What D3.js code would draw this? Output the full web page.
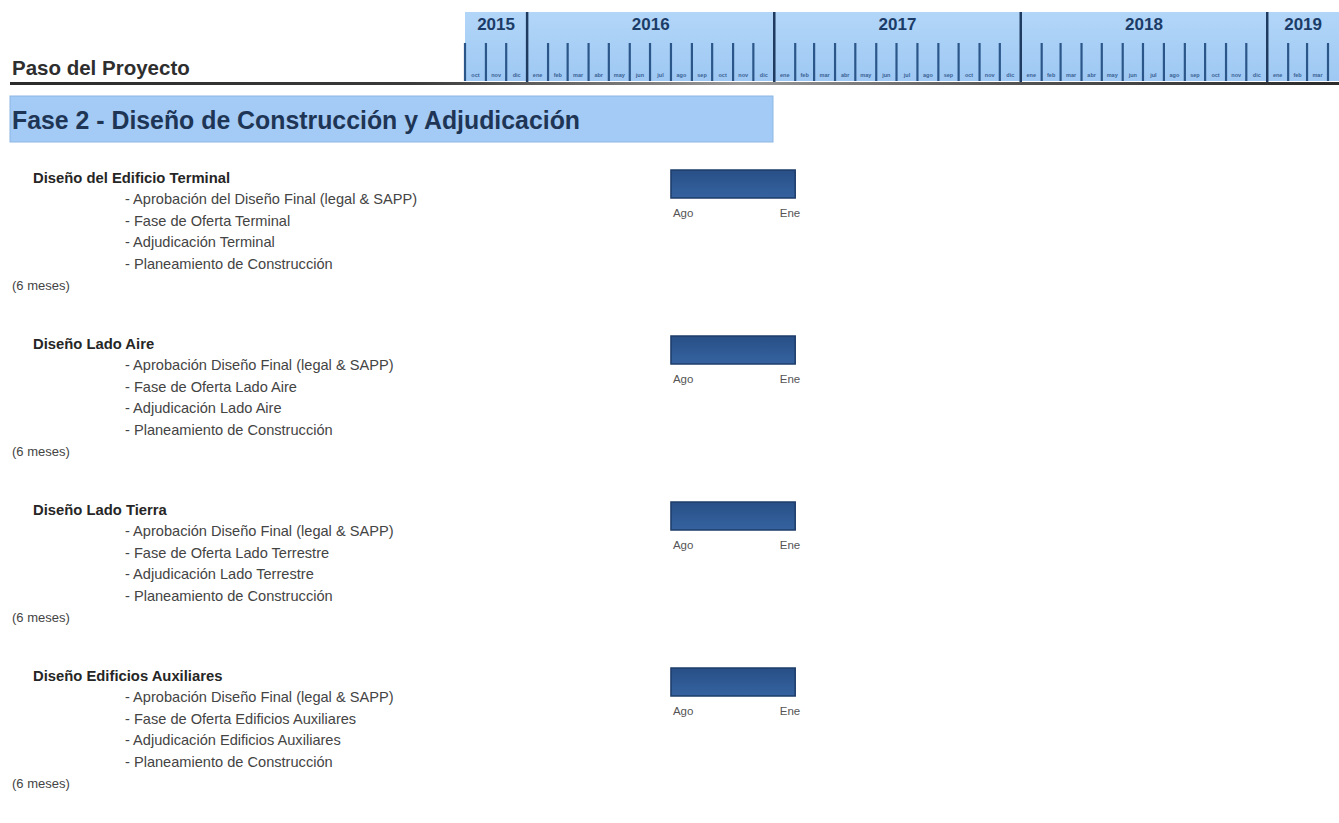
<!DOCTYPE html>
<html>
<head>
<meta charset="utf-8">
<script src="https://cdn.jsdelivr.net/npm/d3@7"></script>
<style>
  body { margin: 0; background: #fff; }
  text { font-family: "Liberation Sans", Arial, sans-serif; }
</style>
</head>
<body>
<svg id="chart"></svg>
<script>
// timeline
const timelineStart = new Date(2015, 9, 1)
const timelineEnd = new Date(2019, 3, 1)
const years = [2015, 2016, 2017, 2018, 2019]
const monthNames = ["ene", "feb", "mar", "abr", "may", "jun", "jul", "ago", "sep", "oct", "nov", "dic"]

// tasks
const headerTitle = "Paso del Proyecto"
const phaseTitle = "Fase 2 - Diseño de Construcción y Adjudicación"
const groups = ["Diseño del Edificio Terminal", "Diseño Lado Aire", "Diseño Lado Tierra", "Diseño Edificios Auxiliares"]
const subtasks = [
    ["- Aprobación del Diseño Final (legal & SAPP)", "- Fase de Oferta Terminal", "- Adjudicación Terminal", "- Planeamiento de Construcción"],
    ["- Aprobación Diseño Final (legal & SAPP)", "- Fase de Oferta Lado Aire", "- Adjudicación Lado Aire", "- Planeamiento de Construcción"],
    ["- Aprobación Diseño Final (legal & SAPP)", "- Fase de Oferta  Lado Terrestre", "- Adjudicación Lado Terrestre", "- Planeamiento de Construcción"],
    ["- Aprobación Diseño Final (legal & SAPP)", "- Fase de Oferta Edificios Auxiliares", "- Adjudicación Edificios Auxiliares", "- Planeamiento de Construcción"]
]
const durations = ["(6 meses)", "(6 meses)", "(6 meses)", "(6 meses)"]
const barStarts = ["2016-08-01", "2016-08-01", "2016-08-01", "2016-08-01"]
const barEnds = ["2017-02-01", "2017-02-01", "2017-02-01", "2017-02-01"]
const startLabels = ["Ago", "Ago", "Ago", "Ago"]
const endLabels = ["Ene", "Ene", "Ene", "Ene"]

const W = 1339, H = 823
const svg = d3.select("#chart").attr("width", W).attr("height", H)
const defs = svg.append("defs")

const parse = d3.timeParse("%Y-%m-%d")
const x = d3.scaleTime().domain([timelineStart, timelineEnd]).range([465, 1328])

// ---- header band
const bandTop = 12, bandBottom = 81
const bandGrad = defs.append("linearGradient").attr("id", "band")
    .attr("x1", 0).attr("x2", 0).attr("y1", 0).attr("y2", 1)
bandGrad.append("stop").attr("offset", 0).attr("stop-color", "#b2d6f8")
bandGrad.append("stop").attr("offset", 1).attr("stop-color", "#9ec8f3")

svg.append("rect")
    .attr("x", x(timelineStart)).attr("y", bandTop)
    .attr("width", W - x(timelineStart)).attr("height", bandBottom - bandTop)
    .attr("fill", "url(#band)")

const months = d3.timeMonth.range(timelineStart, new Date(2019, 5, 1))
    .filter(d => x(d) <= W)

svg.append("g").selectAll("line")
    .data(months.filter(d => d.getMonth() !== 0))
    .join("line")
        .attr("x1", d => x(d)).attr("x2", d => x(d))
        .attr("y1", 43).attr("y2", bandBottom)
        .attr("stroke", "#2b5689")
        .attr("stroke-width", 2.2)

svg.append("g").selectAll("text")
    .data(months.filter(d => x(d3.timeMonth.offset(d, 1)) <= W + 4))
    .join("text")
        .attr("x", d => (x(d) + x(d3.timeMonth.offset(d, 1))) / 2)
        .attr("y", 77)
        .attr("text-anchor", "middle")
        .attr("font-size", 5.5)
        .attr("font-weight", "bold")
        .attr("fill", "#3a6294")
        .text(d => monthNames[d.getMonth()])

svg.append("g").selectAll("line")
    .data(years.filter(y => y > 2015))
    .join("line")
        .attr("x1", y => x(new Date(y, 0, 1))).attr("x2", y => x(new Date(y, 0, 1)))
        .attr("y1", bandTop).attr("y2", bandBottom + 3)
        .attr("stroke", "#1f3b60")
        .attr("stroke-width", 2.5)

svg.append("g").selectAll("text")
    .data(years)
    .join("text")
        .attr("x", y => {
            const a = Math.max(x(new Date(y, 0, 1)), x(timelineStart))
            const b = Math.min(x(new Date(y + 1, 0, 1)), W)
            return (a + b) / 2
        })
        .attr("y", 30)
        .attr("text-anchor", "middle")
        .attr("font-size", 17)
        .attr("font-weight", "bold")
        .attr("fill", "#1c3c68")
        .text(y => y)

// ---- title and rule
svg.append("text")
    .attr("x", 12).attr("y", 75)
    .attr("font-size", 20.5)
    .attr("font-weight", "bold")
    .attr("fill", "#2e2e2e")
    .text(headerTitle)

const grad = defs.append("linearGradient").attr("id", "rule")
grad.selectAll("stop")
    .data([[0, "#2b2b2b"], [0.3, "#3a3a3a"], [0.55, "#9a9a9a"], [0.75, "#555"], [1, "#2b2b2b"]])
    .join("stop")
        .attr("offset", d => d[0])
        .attr("stop-color", d => d[1])

svg.append("rect")
    .attr("x", 10).attr("y", 82)
    .attr("width", W - 10).attr("height", 3)
    .attr("fill", "url(#rule)")

// ---- phase band
svg.append("rect")
    .attr("x", 10).attr("y", 96)
    .attr("width", 763).attr("height", 46)
    .attr("fill", "#a3cbf5")
    .attr("stroke", "#8db6e3")
    .attr("stroke-width", 1)

svg.append("text")
    .attr("x", 12).attr("y", 129)
    .attr("font-size", 25)
    .attr("font-weight", "bold")
    .attr("fill", "#1e3556")
    .attr("textLength", 568)
    .attr("lengthAdjust", "spacingAndGlyphs")
    .text(phaseTitle)

// ---- task groups
const groupY = d3.scaleLinear().domain([0, 1]).range([178, 344])
const rowStep = 21.4

const g = svg.selectAll(".group")
    .data(groups)
    .join("g")
        .attr("class", "group")
        .attr("transform", (d, i) => `translate(0, ${groupY(i)})`)

g.append("text")
    .attr("x", 33).attr("y", 5)
    .attr("font-size", 14.8)
    .attr("font-weight", "bold")
    .attr("fill", "#262626")
    .text(d => d)

g.selectAll(".sub")
    .data((d, i) => subtasks[i])
    .join("text")
        .attr("class", "sub")
        .attr("x", 125)
        .attr("y", (d, k) => (k + 1) * rowStep + 5)
        .attr("font-size", 14.6)
        .attr("fill", "#444")
        .text(d => d)

g.append("text")
    .attr("x", 12).attr("y", 5 * rowStep + 5)
    .attr("font-size", 13)
    .attr("fill", "#444")
    .text((d, i) => durations[i])

const barGrad = defs.append("linearGradient").attr("id", "bar")
    .attr("x1", 0).attr("x2", 0).attr("y1", 0).attr("y2", 1)
barGrad.append("stop").attr("offset", 0).attr("stop-color", "#284f86")
barGrad.append("stop").attr("offset", 1).attr("stop-color", "#3563a0")

g.append("rect")
    .attr("x", (d, i) => x(parse(barStarts[i])))
    .attr("y", -8)
    .attr("width", (d, i) => x(parse(barEnds[i])) - x(parse(barStarts[i])))
    .attr("height", 28)
    .attr("fill", "url(#bar)")
    .attr("stroke", "#1d3c69")
    .attr("stroke-width", 1.5)

g.append("text")
    .attr("x", (d, i) => x(parse(barStarts[i])) + 2)
    .attr("y", 39)
    .attr("font-size", 11.5)
    .attr("fill", "#555")
    .text((d, i) => startLabels[i])

g.append("text")
    .attr("x", (d, i) => x(parse(barEnds[i])) + 5)
    .attr("y", 39)
    .attr("text-anchor", "end")
    .attr("font-size", 11.5)
    .attr("fill", "#555")
    .text((d, i) => endLabels[i])
</script>
</body>
</html>
